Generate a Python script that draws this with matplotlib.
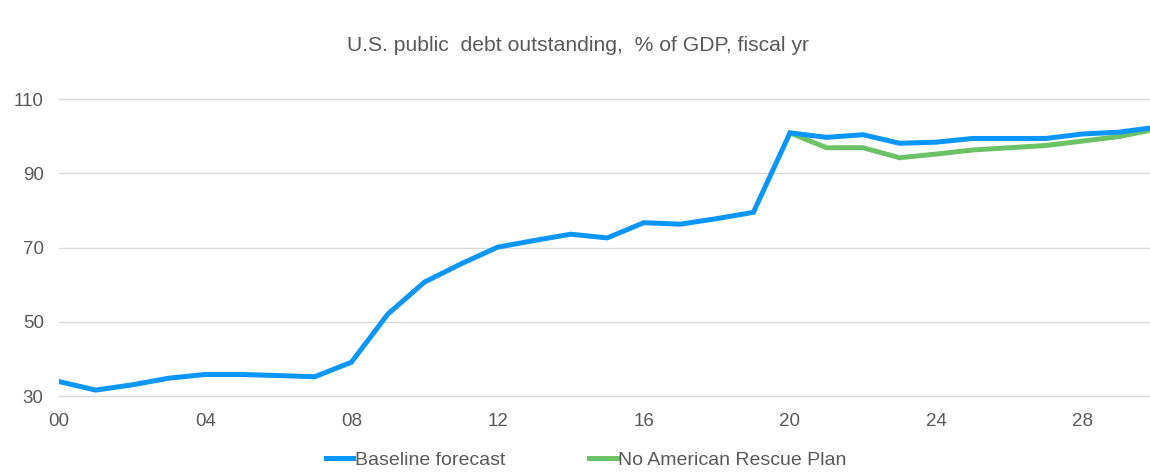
import matplotlib.pyplot as plt

plt.rcParams["font.family"] = ["Liberation Sans", "DejaVu Sans"]

# fiscal years, history + forecast
years = list(range(2000, 2031))
baseline = [33.9, 31.6, 33.0, 34.8, 35.8, 35.8, 35.5, 35.2, 39.1, 52.1,
            60.7, 65.6, 70.1, 71.9, 73.6, 72.6, 76.7, 76.3, 77.8, 79.5,
            100.9, 99.7, 100.4, 98.1, 98.4, 99.4, 99.4, 99.4, 100.6, 101.1,
            102.4]
rescue_years = list(range(2020, 2031))
no_rescue = [100.9, 96.9, 96.9, 94.2, 95.2, 96.3, 96.9, 97.5, 98.7, 99.9, 101.9]

xticks = list(range(2000, 2030, 4))
yticks = [30, 50, 70, 90, 110]

blue = "#0A96FA"
green = "#6CC365"
grey = "#595959"

fig = plt.figure(figsize=(11.5, 4.72), dpi=100)
ax = fig.add_axes([0.0513, 0.161, 0.9487, 0.629])

ax.plot(years, baseline, color=blue, linewidth=3.6, label="Baseline forecast",
        solid_joinstyle="miter", zorder=3)
ax.plot(rescue_years, no_rescue, color=green, linewidth=3.6,
        label="No American Rescue Plan", solid_joinstyle="miter", zorder=2)

ax.set_xlim(2000, 2029.85)
ax.set_ylim(30, 110)
ax.set_xticks(xticks)
ax.set_xticklabels([f"{y % 100:02d}" for y in xticks])
ax.set_yticks(yticks)
ax.grid(axis="y", color="#D9D9D9", linewidth=1)
for gl in ax.get_ygridlines():
    gl.set_clip_on(False)
ax.set_axisbelow(True)
for s in ax.spines.values():
    s.set_visible(False)
ax.tick_params(length=0, labelsize=13.5, colors=grey, pad=12)
ax.tick_params(axis="y", pad=11)

fig.text(0.503, 0.903, "U.S. public  debt outstanding,  % of GDP, fiscal yr",
         ha="center", va="center", fontsize=15.2, color=grey)

fig.legend(loc="center", bbox_to_anchor=(0.51, 0.026), ncol=2, frameon=False,
           fontsize=14, handlelength=1.4, handletextpad=0.1, columnspacing=4.3,
           labelcolor=grey)

fig.savefig("out.png", dpi=100)
